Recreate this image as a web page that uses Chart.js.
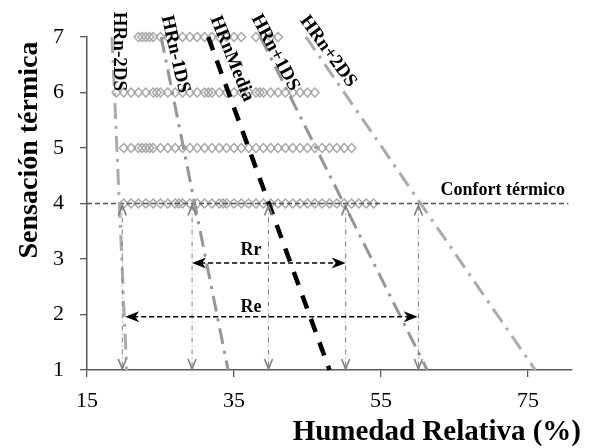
<!DOCTYPE html>
<html><head><meta charset="utf-8">
<script src="https://cdn.jsdelivr.net/npm/chart.js@4.4.0/dist/chart.umd.min.js"></script>
<style>html,body{margin:0;padding:0;background:#fff;}canvas{display:block;}</style>
</head><body>
<canvas id="c" width="592" height="448"></canvas>
<script>
// ---- data ----
const xTicks = [15, 35, 55, 75];
const yTicks = [1, 2, 3, 4, 5, 6, 7];
const sensacionExtremos = [7, 1];            // y of line endpoints
const hrnMenos2DS = [18.4, 20.4];
const hrnMenos1DS = [25.1, 34.2];
const hrnMedia    = [31.5, 48.0];
const hrnMas1DS   = [38.6, 61.3];
const hrnMas2DS   = [44.8, 76.0];
const lineNames = ['HRn-2DS', 'HRn-1DS', 'HRnMedia', 'HRn+1DS', 'HRn+2DS'];
const confortY = 4;
const confortX = [15, 80.5];
const crucesX = [19.8, 29.3, 39.7, 50.2, 60.1];
const rangoRr = [29.3, 50.2];
const rrY = 2.93;
const rangoRe = [20.2, 60.0];
const reY = 1.96;
const obs7 = [22, 22.5, 23, 23.5, 24, 25, 26, 27, 28, 29, 30, 31, 32, 33, 34, 35, 36, 38, 39, 40, 41];
const obs6 = [19, 20, 21, 22, 23, 24, 24.5, 25, 26, 27, 28, 29, 30, 31, 31.5, 32, 33, 34, 35, 36, 37, 38, 38.5, 39, 40, 41, 42, 43, 44, 45, 46];
const obs5 = [20, 21, 22, 22.5, 23, 23.5, 24, 25, 26, 27, 28, 29, 30, 31, 32, 33, 34, 35, 36, 37, 38, 39, 40, 41, 42, 43, 44, 45, 46, 47, 48, 49, 50, 51];
const obs4 = [20, 21, 22, 23, 24, 25, 26, 27, 27.5, 28, 29, 30, 31, 32, 33, 33.5, 34, 35, 36, 37, 38, 39, 40, 41, 42, 43, 44, 45, 46, 47, 48, 49, 50, 51, 52, 53, 54];

// ---- build ----
const SERIF = "'Liberation Serif', 'Times New Roman', serif";
const pts = (xs, y) => xs.map(x => ({x, y}));
const seg = (xs) => xs.map((x, i) => ({x, y: sensacionExtremos[i]}));

const diamond = (xs, y) => ({
  data: pts(xs, y), showLine: false, pointStyle: 'rectRot', pointRadius: 4.4,
  borderColor: '#a6a6a6', backgroundColor: 'rgba(0,0,0,0)', pointBorderWidth: 1.4, clip: false, order: 5
});
const lineDs = (xs, color, width, dash) => ({
  data: seg(xs), showLine: true, pointRadius: 0, borderColor: color, borderWidth: width,
  borderDash: dash, borderCapStyle: 'butt', clip: false, order: 1
});

const datasets = [
  diamond(obs7, 7), diamond(obs6, 6), diamond(obs5, 5), diamond(obs4, 4),
  {data: confortX.map(x => ({x, y: confortY})), showLine: true, pointRadius: 0, borderColor: '#505050',
   borderWidth: 1.5, borderDash: [5, 3], clip: false, order: 3},
  lineDs(hrnMenos2DS, '#ababab', 3, [16, 7, 3, 7]),
  lineDs(hrnMenos1DS, '#969696', 3, [16, 7, 3, 7]),
  lineDs(hrnMedia, '#000000', 4.5, [14, 11]),
  lineDs(hrnMas1DS, '#969696', 3, [16, 7, 3, 7]),
  lineDs(hrnMas2DS, '#ababab', 3, [16, 7, 3, 7])
];

function head(ctx, tx, ty, dx, dy, len, half, notch, filled) {
  const px = -dy, py = dx;
  const bx = tx - dx * len, by = ty - dy * len;
  ctx.beginPath();
  if (filled) {
    ctx.moveTo(tx, ty);
    ctx.lineTo(bx + px * half, by + py * half);
    ctx.lineTo(tx - dx * (len - notch), ty - dy * (len - notch));
    ctx.lineTo(bx - px * half, by - py * half);
    ctx.closePath();
    ctx.fill();
  } else {
    ctx.moveTo(bx + px * half, by + py * half);
    ctx.lineTo(tx, ty);
    ctx.lineTo(bx - px * half, by - py * half);
    ctx.stroke();
  }
}

const annot = {
  id: 'annot',
  afterDatasetsDraw(chart) {
    const ctx = chart.ctx, xs = chart.scales.x, ys = chart.scales.y;
    const X = v => xs.getPixelForValue(v), Y = v => ys.getPixelForValue(v);
    ctx.save();
    // vertical double arrows
    ctx.strokeStyle = '#7f7f7f'; ctx.fillStyle = '#7f7f7f';
    crucesX.forEach(v => {
      const x = X(v), y1 = Y(confortY) + 2, y2 = Y(1) - 1;
      ctx.lineWidth = 1; ctx.setLineDash([5, 3, 1, 3]);
      ctx.beginPath(); ctx.moveTo(x, y1); ctx.lineTo(x, y2); ctx.stroke();
      ctx.setLineDash([]); ctx.lineWidth = 1.6;
      head(ctx, x, y1, 0, -1, 10, 4, 0, false);
      head(ctx, x, y2, 0, 1, 10, 4, 0, false);
    });
    // horizontal double arrows
    ctx.strokeStyle = '#000'; ctx.fillStyle = '#000';
    [[rangoRr, rrY], [rangoRe, reY]].forEach(([r, yv]) => {
      const xa = X(r[0]), xb = X(r[1]), y = Y(yv);
      ctx.lineWidth = 1.5; ctx.setLineDash([5, 3]);
      ctx.beginPath(); ctx.moveTo(xa + 8, y); ctx.lineTo(xb - 8, y); ctx.stroke();
      ctx.setLineDash([]);
      head(ctx, xa, y, -1, 0, 14, 5.5, 4, true);
      head(ctx, xb, y, 1, 0, 14, 5.5, 4, true);
    });
    // texts
    ctx.fillStyle = '#000';
    ctx.font = 'bold 18px ' + SERIF; ctx.textAlign = 'center'; ctx.textBaseline = 'middle';
    ctx.fillText('Rr', X(37.3), Y(3.15));
    ctx.fillText('Re', X(37.3), Y(2.12));
    ctx.textAlign = 'right'; ctx.textBaseline = 'alphabetic';
    ctx.fillText('Confort térmico', 565, Y(confortY) - 9);
    // line labels
    const lab = [[19.35, 6.74, 90], [27.0, 6.69, 77], [34.7, 6.61, 68], [40.6, 6.72, 62], [47.8, 6.74, 54]];
    ctx.font = 'bold 19px ' + SERIF; ctx.textAlign = 'center'; ctx.textBaseline = 'middle';
    lab.forEach((l, i) => {
      ctx.save(); ctx.translate(X(l[0]), Y(l[1])); ctx.rotate(l[2] * Math.PI / 180);
      ctx.fillText(lineNames[i], 0, 0); ctx.restore();
    });
    // axis titles
    ctx.font = 'bold 29px ' + SERIF;
    ctx.textAlign = 'right'; ctx.textBaseline = 'alphabetic';
    ctx.fillText('Humedad Relativa (%)', 581, 440);
    ctx.font = 'bold 28px ' + SERIF;
    ctx.save(); ctx.translate(37, 150); ctx.rotate(-Math.PI / 2);
    ctx.textAlign = 'center'; ctx.fillText('Sensación térmica', 0, 0); ctx.restore();
    ctx.restore();
  }
};

new Chart(document.getElementById('c'), {
  type: 'scatter',
  data: {datasets},
  options: {
    responsive: false, animation: false, events: [],
    layout: {padding: {left: 0, top: 37, right: 20, bottom: 0}},
    plugins: {legend: {display: false}, tooltip: {enabled: false}},
    scales: {
      x: {
        type: 'linear', min: 15, max: 81,
        afterBuildTicks: s => { s.ticks = xTicks.map(v => ({value: v})); },
        afterFit: s => { s.height = 78; },
        grid: {drawOnChartArea: false, drawTicks: true, tickLength: 7, color: '#595959', lineWidth: 1.3},
        border: {display: true, color: '#595959', width: 1.5},
        ticks: {font: {family: SERIF, size: 22}, color: '#000', padding: 11, maxRotation: 0}
      },
      y: {
        type: 'linear', min: 1, max: 7,
        afterBuildTicks: s => { s.ticks = yTicks.map(v => ({value: v})); },
        afterFit: s => { s.width = 87; },
        grid: {drawOnChartArea: false, drawTicks: true, tickLength: 7, color: '#595959', lineWidth: 1.3},
        border: {display: true, color: '#595959', width: 1.5},
        ticks: {font: {family: SERIF, size: 22}, color: '#000', padding: 16}
      }
    }
  },
  plugins: [annot]
});
</script>
</body></html>
